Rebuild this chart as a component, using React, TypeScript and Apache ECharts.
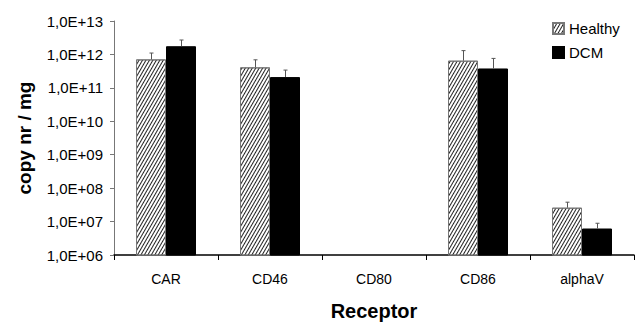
import React, { useEffect, useRef } from "react";
import * as echarts from "echarts";

const categories = ["CAR", "CD46", "CD80", "CD86", "alphaV"];
const healthyValues: (number | null)[] = [7.1e11, 4.1e11, null, 6.5e11, 2.6e7];
const healthyErrTop: (number | null)[] = [1.1e12, 6.9e11, null, 1.3e12, 3.8e7];
const dcmValues: (number | null)[] = [1.76e12, 2.1e11, null, 3.8e11, 6.2e6];
const dcmErrTop: (number | null)[] = [2.7e12, 3.4e11, null, 7.6e11, 8.9e6];
const yMin = 1e6;
const yMax = 1e13;

const FONT = "'Liberation Sans', Arial, sans-serif";
const BAR_W = 30;

function errData(vals: (number | null)[], tops: (number | null)[]) {
  const out: any[] = [];
  vals.forEach((v, i) => {
    if (v != null && tops[i] != null) out.push([i, v, tops[i]]);
  });
  return out;
}

function errSeries(name: string, vals: (number | null)[], tops: (number | null)[], offset: number) {
  return {
    type: "custom",
    name: name + "-err",
    z: 5,
    clip: false,
    encode: { x: 0, y: [1, 2] },
    data: errData(vals, tops),
    renderItem: (params: any, api: any) => {
      const c = api.coord([api.value(0), api.value(1)]);
      const t = api.coord([api.value(0), api.value(2)]);
      const x = Math.round(c[0] + offset) + 0.5;
      const style = { stroke: "#555", lineWidth: 1 };
      return {
        type: "group",
        children: [
          { type: "line", shape: { x1: x, y1: c[1], x2: x, y2: t[1] }, style },
          { type: "line", shape: { x1: x - 2, y1: t[1], x2: x + 2, y2: t[1] }, style },
        ],
      };
    },
  };
}

export default function App() {
  const ref = useRef<HTMLDivElement>(null);
  useEffect(() => {
    if (!ref.current) return;
    const chart = echarts.init(ref.current, null, { renderer: "svg", width: 635, height: 326 });
    chart.setOption({
      animation: false,
      backgroundColor: "#fff",
      textStyle: { fontFamily: FONT },
      grid: { left: 114, top: 21, width: 520, height: 238 },
      legend: {
        orient: "vertical",
        left: 547,
        top: 16,
        itemWidth: 11,
        itemHeight: 11,
        itemGap: 9,
        icon: "rect",
        textStyle: { fontSize: 15, color: "#000", fontFamily: FONT },
        data: ["Healthy", "DCM"],
      },
      xAxis: {
        type: "category",
        data: categories,
        boundaryGap: true,
        name: "Receptor",
        nameLocation: "middle",
        nameGap: 46,
        nameTextStyle: { fontSize: 20, fontWeight: "bold", color: "#000", fontFamily: FONT },
        axisLine: { lineStyle: { color: "#000", width: 1.5 } },
        axisTick: { show: true, length: 5, lineStyle: { color: "#000" } },
        axisLabel: { fontSize: 14, color: "#000", margin: 17, fontFamily: FONT },
        splitLine: { show: false },
      },
      yAxis: {
        type: "log",
        logBase: 10,
        min: yMin,
        max: yMax,
        name: "copy nr / mg",
        nameLocation: "middle",
        nameGap: 80,
        nameTextStyle: { fontSize: 19, fontWeight: "bold", color: "#000", fontFamily: FONT },
        axisLine: { show: true, lineStyle: { color: "#777", width: 1 } },
        axisTick: { show: true, length: 4, lineStyle: { color: "#777" } },
        axisLabel: {
          fontSize: 15,
          color: "#000",
          margin: 11,
          fontFamily: FONT,
          formatter: (v: number) => {
            const e = Math.round(Math.log10(v));
            return "1,0E+" + String(e).padStart(2, "0");
          },
        },
        splitLine: { show: false },
      },
      series: [
        {
          type: "bar",
          name: "Healthy",
          data: healthyValues,
          barWidth: BAR_W,
          barGap: "0%",
          clip: true,
          itemStyle: {
            color: "#fff",
            borderColor: "#777",
            borderWidth: 1,
            decal: {
              symbol: "rect",
              symbolSize: 1,
              dashArrayX: [1, 0],
              dashArrayY: [1, 1.4],
              rotation: -Math.PI / 3,
              color: "#222",
              backgroundColor: "#fff",
            },
          },
        },
        {
          type: "bar",
          name: "DCM",
          data: dcmValues,
          barWidth: BAR_W,
          barGap: "0%",
          clip: true,
          itemStyle: { color: "#000", borderColor: "#000", borderWidth: 1 },
        },
        errSeries("Healthy", healthyValues, healthyErrTop, -BAR_W / 2),
        errSeries("DCM", dcmValues, dcmErrTop, BAR_W / 2),
      ],
    });
    return () => chart.dispose();
  }, []);
  return <div ref={ref} style={{ width: 635, height: 326, position: "absolute", left: 0, top: 0 }} />;
}
